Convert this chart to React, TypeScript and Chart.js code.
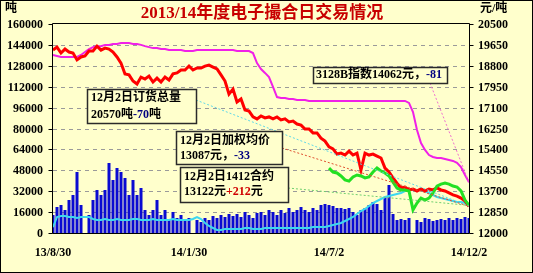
import React, { useEffect, useRef } from 'react';
import { Chart, registerables } from 'chart.js';

Chart.register(...registerables);

const W = 533;
const H = 273;
const BG = '#FFFFCC';
const FONT = "'Liberation Serif', 'Noto Sans CJK SC'";

// x-axis tick labels and the category index they sit on
const tickLabels = ['13/8/30', '14/1/30', '14/7/2', '14/12/2'];
const tickIndex = [0, 34, 69, 104];

// daily volume (tons, left axis)
const volume = [
  13780, 19900, 21430, 17610, 25260, 29090, 46700, 21430, 0, 13780,
  25260, 32920, 29090, 32920, 53590, 40570, 49760, 46700, 42110, 29090,
  40570, 29090, 34450, 17610, 13780, 17610, 25260, 13780, 17610, 9950,
  16080, 11480, 13780, 9950, 11480, 0, 9950, 8420, 11480, 9950,
  13010, 11480, 13780, 12250, 14550, 13010, 14550, 12250, 16080, 13780,
  11480, 15310, 16080, 13780, 17610, 16080, 13780, 17610, 15310, 19140,
  16080, 17610, 19900, 17610, 16080, 19140, 17610, 21430, 22200, 21430,
  20670, 19140, 19140, 18370, 19140, 16080, 13780, 17610, 19140, 21430,
  23730, 22200, 17610, 27560, 36750, 14550, 9950, 10720, 9950, 11480,
  0, 9950, 8420, 11480, 10720, 9190, 9950, 10720, 9950, 11480,
  9950, 11480, 10720, 12250, 11480,
];

// total open orders (tons, left axis)
const orders = [
  4590, 12250, 13010, 13010, 12250, 12250, 11480, 12250, 12250, 12250,
  10720, 9950, 9950, 10720, 9950, 9950, 10720, 9950, 9950, 9950,
  10720, 10720, 9950, 9950, 9950, 10720, 9950, 9950, 9950, 9950,
  10720, 9950, 9950, 9950, 9950, 10720, 12250, 10720, 7660, 5360,
  3830, 2300, 2300, 3060, 3060, 3060, 3060, 3060, 3830, 3830,
  3060, 3060, 3060, 3830, 3830, 3830, 3830, 3830, 3830, 3830,
  3830, 3830, 3830, 3830, 3830, 4590, 4590, 4590, 4590, 5360,
  6120, 6890, 7660, 9190, 10720, 12250, 14550, 16840, 18370, 20670,
  22970, 24500, 26030, 27560, 28330, 29090, 29860, 30620, 32150, 32920,
  32920, 32920, 32920, 32150, 30620, 29090, 27560, 26790, 26030, 25260,
  24500, 23730, 23730, 22970, 20570,
];

// weighted average price (yuan/ton, right axis)
const avgPrice = [
  19440, 19560, 19320, 19480, 19360, 19320, 19040, 19160, 19200, 19400,
  19400, 19600, 19440, 19520, 19480, 19360, 19160, 18910, 18470, 18430,
  18180, 18060, 18340, 18260, 18380, 18140, 18300, 18140, 18340, 18220,
  18470, 18510, 18630, 18630, 18790, 18630, 18710, 18710, 18790, 18830,
  18750, 18670, 18430, 18180, 17650, 17850, 17330, 17450, 17000, 16960,
  16720, 16640, 16760, 16680, 16720, 16640, 16720, 16600, 16640, 16520,
  16550, 16430, 16390, 16230, 16230, 16070, 16070, 15860, 15740, 15500,
  15420, 15210, 15250, 15170, 15330, 15170, 15250, 14560, 15250, 15170,
  15210, 15130, 15050, 14640, 14480, 14240, 14030, 13830, 13870, 13750,
  13790, 13710, 13790, 13710, 13790, 13750, 13830, 13750, 13710, 13630,
  13550, 13500, 13420, 13300, 13087,
];

// 3128B index (yuan/ton, right axis)
const index3128B = [
  19240, 19200, 19160, 19160, 19160, 19160, 19160, 19240, 19360, 19480,
  19560, 19600, 19600, 19650, 19650, 19690, 19690, 19730, 19730, 19730,
  19690, 19690, 19650, 19600, 19560, 19520, 19520, 19480, 19480, 19440,
  19440, 19440, 19440, 19400, 19400, 19400, 19440, 19440, 19440, 19440,
  19440, 19440, 19440, 19440, 19440, 19440, 19400, 19400, 19400, 19400,
  19320, 18910, 18670, 18510, 18340, 17940, 17530, 17490, 17490, 17450,
  17450, 17410, 17410, 17410, 17370, 17370, 17370, 17370, 17370, 17370,
  17370, 17370, 17370, 17370, 17370, 17370, 17370, 17370, 17370, 17370,
  17370, 17370, 17370, 17370, 17370, 17370, 17370, 17370, 17370, 17290,
  16920, 16190, 15660, 15380, 15170, 15090, 15050, 15050, 15010, 14970,
  14930, 14850, 14680, 14360, 14062,
];

// 1412 contract price (yuan/ton, right axis), begins at category contract1412Start
const contract1412Start = 69;
const contract1412 = [
  14640, 14480, 14440, 14320, 14160, 14110, 14280, 14360, 14320, 14240,
  14280, 14480, 14640, 14520, 14440, 14320, 14070, 13830, 13750, 13750,
  13710, 12940, 13220, 13420, 13340, 13420, 13630, 13910, 13990, 14030,
  13990, 13910, 13870, 13710, 13340, 13122,
];

const categories = volume.map((_, i) => {
  const k = tickIndex.indexOf(i);
  return k >= 0 ? tickLabels[k] : '';
});
const contractData = categories.map((_, i) =>
  i < contract1412Start ? null : contract1412[i - contract1412Start]
);

const COL_BAR = '#0A0AD2';
const COL_CYAN = '#3CD8F0';
const COL_MAG = '#F020E8';
const COL_RED = '#FF0000';
const COL_GREEN = '#22E022';

function drawRuns(ctx: CanvasRenderingContext2D, x: number, y: number, parts: [string, string][]) {
  let cx = x;
  for (const [t, c] of parts) {
    ctx.fillStyle = c;
    ctx.fillText(t, cx, y);
    cx += ctx.measureText(t).width;
  }
}

function box(ctx: CanvasRenderingContext2D, x: number, y: number, w: number, h: number) {
  ctx.save();
  ctx.setLineDash([]);
  ctx.fillStyle = BG;
  ctx.fillRect(x, y, w, h);
  ctx.strokeStyle = '#2A2A2A';
  ctx.lineWidth = 1.5;
  ctx.strokeRect(x + 0.5, y + 0.5, w, h);
  ctx.restore();
}

const overlay = {
  id: 'overlay',
  beforeDraw(chart: any) {
    const ctx = chart.ctx;
    ctx.save();
    ctx.fillStyle = BG;
    ctx.fillRect(0, 0, chart.width, chart.height);
    ctx.restore();
  },
  beforeDatasetsDraw(chart: any) {
    const { ctx, chartArea: a } = chart;
    const ys = chart.scales.y;
    ctx.save();
    ctx.strokeStyle = '#9A9A9A';
    ctx.lineWidth = 1;
    ctx.setLineDash([4, 4]);
    for (const t of ys.ticks) {
      const py = Math.round(ys.getPixelForValue(t.value)) + 0.5;
      if (py < a.top + 2 || py > a.bottom - 2) continue;
      ctx.beginPath();
      ctx.moveTo(a.left, py);
      ctx.lineTo(a.right, py);
      ctx.stroke();
    }
    ctx.restore();
  },
  afterDatasetsDraw(chart: any) {
    const { ctx, chartArea: a, scales } = chart;
    const ys = scales.y;
    const yr = scales.y1;
    const xs = scales.x;
    const last = volume.length - 1;
    ctx.save();

    // leader lines (dotted) from boxes to series ends
    const lead = (x0: number, y0: number, dsIndex: number, color: string) => {
      const el = chart.getDatasetMeta(dsIndex).data[last];
      ctx.save();
      ctx.setLineDash([2, 2]);
      ctx.strokeStyle = color;
      ctx.lineWidth = 1;
      ctx.beginPath();
      ctx.moveTo(x0, y0);
      ctx.lineTo(el.x, el.y);
      ctx.stroke();
      ctx.restore();
    };
    lead(196, 100, 1, '#5FD8E8');
    lead(282, 148, 3, '#E05030');
    lead(288, 188, 4, '#70D070');
    lead(430, 83, 2, '#F070D0');

    // frame
    ctx.setLineDash([]);
    ctx.strokeStyle = '#000';
    ctx.lineWidth = 1;
    const L = Math.round(a.left) - 0.5;
    const R = Math.round(a.right) + 0.5;
    const T = Math.round(a.top) - 0.5;
    const B = Math.round(a.bottom) + 0.5;
    ctx.beginPath();
    ctx.moveTo(L, T);
    ctx.lineTo(L, B);
    ctx.lineTo(R, B);
    ctx.lineTo(R, T);
    ctx.closePath();
    ctx.stroke();

    // axis ticks and labels
    ctx.font = `bold 12px ${FONT}`;
    ctx.fillStyle = '#000';
    ctx.textBaseline = 'middle';
    ctx.textAlign = 'right';
    for (const t of ys.ticks) {
      const py = Math.round(ys.getPixelForValue(t.value)) + 0.5;
      ctx.beginPath();
      ctx.moveTo(L - 4, py);
      ctx.lineTo(L, py);
      ctx.stroke();
      ctx.fillText(String(t.value), 43, py);
    }
    ctx.textAlign = 'left';
    for (const t of yr.ticks) {
      const py = Math.round(yr.getPixelForValue(t.value)) + 0.5;
      ctx.beginPath();
      ctx.moveTo(R, py);
      ctx.lineTo(R + 4, py);
      ctx.stroke();
      ctx.fillText(String(t.value), 478, py);
    }
    ctx.textAlign = 'center';
    tickIndex.forEach((idx, k) => {
      ctx.fillText(tickLabels[k], xs.getPixelForValue(idx), 253);
    });

    // units
    ctx.textAlign = 'left';
    ctx.fillText('吨', 5, 9);
    ctx.fillText('元/吨', 480, 9);

    // title
    ctx.textAlign = 'center';
    ctx.font = `bold 17px ${FONT}`;
    ctx.fillStyle = '#C80000';
    ctx.fillText('2013/14年度电子撮合日交易情况', 262, 14);

    // annotation boxes
    ctx.textAlign = 'left';
    ctx.font = `bold 12px ${FONT}`;
    const BLK = '#000';
    const NAVY = '#000080';
    const RED = '#D00000';

    box(ctx, 87, 89, 109, 34);
    drawRuns(ctx, 91, 98, [['12月2日订货总量', BLK]]);
    drawRuns(ctx, 91, 115, [['20570吨', BLK], ['-70', NAVY], ['吨', BLK]]);

    box(ctx, 176, 131, 106, 33);
    drawRuns(ctx, 180, 141, [['12月2日加权均价', BLK]]);
    drawRuns(ctx, 180, 156, [['13087元，', BLK], ['-33', NAVY]]);

    box(ctx, 180, 167, 108, 35);
    drawRuns(ctx, 184, 177, [['12月2日1412合约', BLK]]);
    drawRuns(ctx, 184, 192, [['13122元', BLK], ['+212', RED], ['元', BLK]]);

    box(ctx, 313, 67, 134, 16);
    drawRuns(ctx, 316, 75, [['3128B指数14062元，', BLK], ['-81', NAVY]]);

    // outer border
    ctx.strokeStyle = '#000';
    ctx.lineWidth = 1;
    ctx.strokeRect(0.5, 0.5, chart.width - 1, chart.height - 1);
    ctx.restore();
  },
};

export default function App() {
  const ref = useRef<HTMLCanvasElement | null>(null);
  useEffect(() => {
    document.body.style.margin = '0';
    const canvas = ref.current;
    if (!canvas) return;
    const chart = new Chart(canvas, {
      type: 'bar',
      data: {
        labels: categories,
        datasets: [
          {
            type: 'bar',
            label: '成交量',
            data: volume,
            yAxisID: 'y',
            backgroundColor: COL_BAR,
            borderWidth: 0,
            barPercentage: 0.75,
            categoryPercentage: 1.0,
            order: 10,
          },
          {
            type: 'line',
            label: '订货总量',
            data: orders,
            yAxisID: 'y',
            borderColor: COL_CYAN,
            borderWidth: 2,
            pointRadius: 0,
            tension: 0,
            fill: false,
            order: 4,
          },
          {
            type: 'line',
            label: '3128B指数',
            data: index3128B,
            yAxisID: 'y1',
            borderColor: COL_MAG,
            borderWidth: 2,
            pointRadius: 0,
            tension: 0,
            fill: false,
            order: 3,
          },
          {
            type: 'line',
            label: '加权均价',
            data: avgPrice,
            yAxisID: 'y1',
            borderColor: COL_RED,
            borderWidth: 3,
            pointRadius: 0,
            tension: 0,
            fill: false,
            order: 2,
          },
          {
            type: 'line',
            label: '1412合约',
            data: contractData,
            yAxisID: 'y1',
            borderColor: COL_GREEN,
            borderWidth: 3,
            pointRadius: 0,
            tension: 0,
            fill: false,
            order: 1,
          },
        ],
      },
      options: {
        animation: false,
        responsive: false,
        events: [],
        layout: { padding: { top: 24, left: 0, right: 0, bottom: 0 }, autoPadding: false },
        plugins: {
          legend: { display: false },
          tooltip: { enabled: false },
          title: { display: false },
        },
        scales: {
          x: {
            type: 'category',
            offset: false,
            grid: { display: false },
            border: { display: false },
            ticks: { display: false },
            afterFit: (s: any) => {
              s.height = 40;
            },
          },
          y: {
            position: 'left',
            min: 0,
            max: 160000,
            ticks: { display: false, stepSize: 16000 },
            grid: { display: false },
            border: { display: false },
            afterFit: (s: any) => {
              s.width = 53;
            },
          },
          y1: {
            position: 'right',
            min: 12000,
            max: 20500,
            ticks: { display: false, stepSize: 850 },
            grid: { display: false },
            border: { display: false },
            afterFit: (s: any) => {
              s.width = 64;
            },
          },
        },
      } as any,
      plugins: [overlay],
    });
    return () => chart.destroy();
  }, []);
  return (
    <canvas
      ref={ref}
      width={W}
      height={H}
      style={{ display: 'block', width: W, height: H }}
    />
  );
}
